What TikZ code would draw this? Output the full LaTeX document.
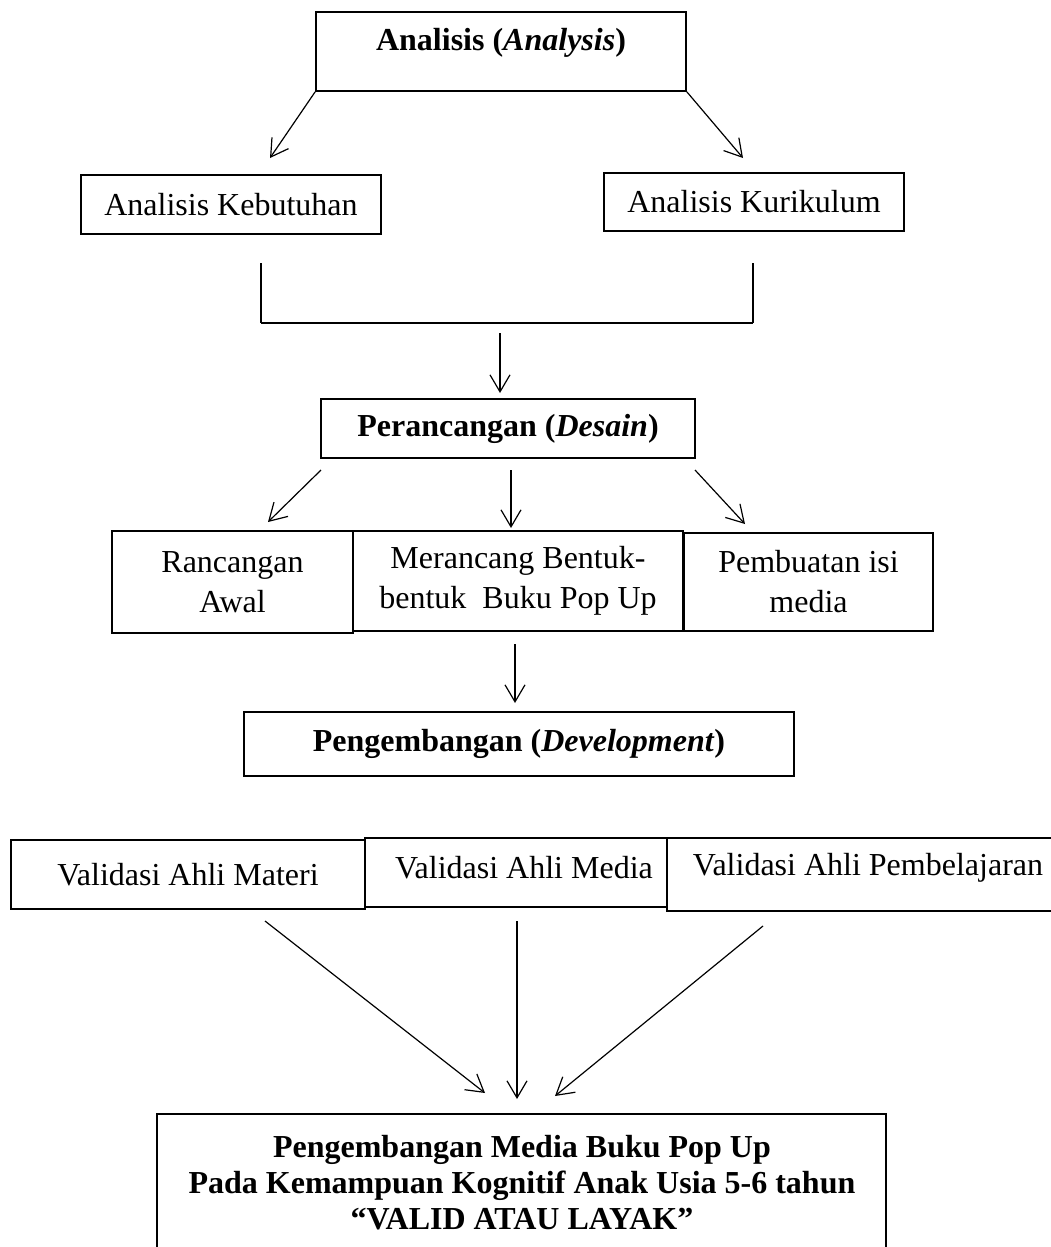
\documentclass[tikz,border=0pt]{standalone}
\usepackage{fontspec}
\setmainfont{Liberation Serif}
\usetikzlibrary{arrows.meta}
\begin{document}
\begin{tikzpicture}[x=1pt,y=-1pt,
  box/.style={draw, line width=1.8pt, inner sep=0pt, rectangle},
  txt/.style={font=\fontsize{32}{40}\selectfont, align=center, inner sep=0pt},
  btxt/.style={font=\fontsize{32}{36}\selectfont\bfseries, align=center, inner sep=0pt},
  arr/.style={line width=1.2pt, -{Straight Barb[length=17pt,width=20pt,line width=1.2pt]}},
  brk/.style={line width=1.3pt}
  ]
\clip (0,0) rectangle (1051,1247);
\fill[white] (0,0) rectangle (1051,1247);

% boxes
\node[box, minimum width=370pt, minimum height=79pt] (ana) at (501,51.5) {};
\node[btxt] (anat) at (501,43) {Analisis (\textit{Analysis})};
\node[box, txt, minimum width=300pt, minimum height=59pt] (keb) at (231,204.5) {Analisis Kebutuhan};
\node[box, txt, minimum width=300pt, minimum height=58pt] (kur) at (754,202) {Analisis Kurikulum};
\node[box, btxt, minimum width=374pt, minimum height=59pt] (per) at (508,428.5) {Perancangan (\textit{Desain})};
\node[box, txt, minimum width=241pt, minimum height=102pt] (ran) at (232.5,582) {Rancangan\\Awal};
\node[box, txt, minimum width=330pt, minimum height=100pt] (mer) at (518,581) {Merancang Bentuk-\\bentuk\ \ Buku Pop Up};
\node[box, txt, minimum width=249pt, minimum height=98pt] (pem) at (808.5,582) {Pembuatan isi\\media};
\node[box, btxt, minimum width=550pt, minimum height=64pt] (dev) at (519,744) {Pengembangan (\textit{Development})};
\node[box, txt, minimum width=354pt, minimum height=69pt] (vmat) at (188,874.5) {Validasi Ahli Materi};
\node[box, minimum width=302pt, minimum height=69pt] (vmed) at (516,872.5) {};
\node[txt] (vmedt) at (524,868) {Validasi Ahli Media};
\node[box, minimum width=403pt, minimum height=73pt] (vpem) at (868.5,874.5) {};
\node[txt] (vpemt) at (868,868) {Validasi Ahli Pembelajaran};
\node[box, minimum width=729pt, minimum height=156pt] (fin) at (521.5,1192) {};
\node[btxt] (fint) at (522,1183) {Pengembangan Media Buku Pop Up\\Pada Kemampuan Kognitif Anak Usia 5-6 tahun\\\char"201C VALID ATAU LAYAK\char"201D};

% coordinates
\coordinate (e1) at (270,158);
\coordinate (e2) at (743,158);
\coordinate (bl1) at (261,263);
\coordinate (bl2) at (261,323);
\coordinate (br2) at (753,323);
\coordinate (br1) at (753,263);
\coordinate (s3) at (500,333);
\coordinate (e3) at (500,393);
\coordinate (s4) at (321,470);
\coordinate (e4) at (268,522);
\coordinate (s5) at (511,470);
\coordinate (e5) at (511,528);
\coordinate (s6) at (695,470);
\coordinate (e6) at (745,524);
\coordinate (s7) at (515,644);
\coordinate (e7) at (515,703);
\coordinate (s8) at (265,921);
\coordinate (e8) at (485,1093);
\coordinate (s9) at (517,921);
\coordinate (e9) at (517,1099);
\coordinate (s10) at (763,926);
\coordinate (e10) at (555,1096);

% connectors
\draw[arr] (ana.south west) -- (e1);
\draw[arr] (ana.south east) -- (e2);
\draw[brk] (bl1) -- (bl2);
\draw[brk] (br1) -- (br2);
\draw[line width=2.2pt] (bl2) -- (br2);
\draw[arr] (s3) -- (e3);
\draw[arr] (s4) -- (e4);
\draw[arr] (s5) -- (e5);
\draw[arr] (s6) -- (e6);
\draw[arr] (s7) -- (e7);
\draw[arr] (s8) -- (e8);
\draw[arr] (s9) -- (e9);
\draw[arr] (s10) -- (e10);
\end{tikzpicture}
\end{document}
